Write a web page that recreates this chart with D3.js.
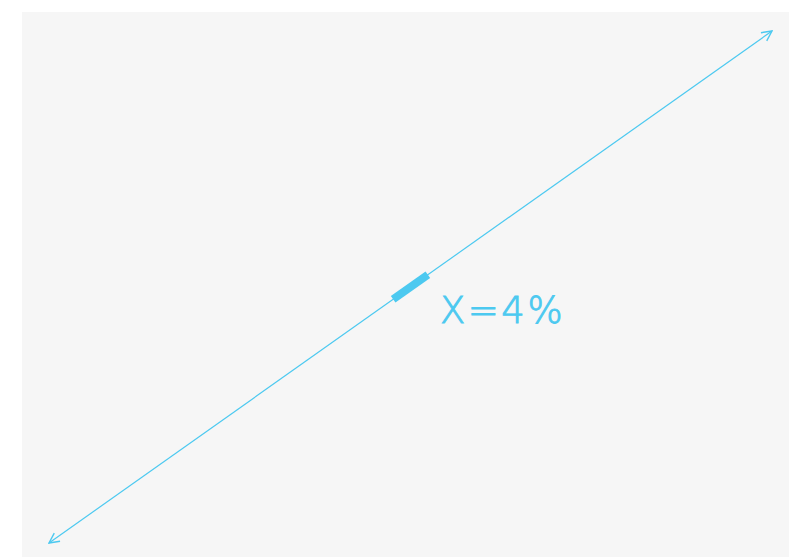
<!DOCTYPE html>
<html><head><meta charset="utf-8">
<script src="https://cdn.jsdelivr.net/npm/d3@7"></script>
<style>html,body{margin:0;padding:0;background:#fff;}svg{display:block;}</style>
</head><body>
<svg id="c" width="789" height="557"></svg>
<script>
// data
const lineStart = [0, 0];
const lineEnd = [1, 1];
const highlight = [0.476, 0.524];
const labelText = ["X=4%"];

const W = 789, H = 557;
const color = "#4cc9f0";
const svg = d3.select("#c");
const defs = svg.append("defs");
["end","start"].forEach(k=>{
  defs.append("marker").attr("id","arrow-"+k)
    .attr("viewBox","0 0 12 12").attr("refX",11).attr("refY",6)
    .attr("markerWidth",12).attr("markerHeight",12).attr("markerUnits","userSpaceOnUse")
    .attr("orient", k==="end" ? "auto" : "auto-start-reverse")
    .append("path").attr("d","M1,1 L11,6 L1,11").attr("fill","none")
    .attr("stroke",color).attr("stroke-width",1.4);
});

svg.append("rect").attr("x",22).attr("y",12).attr("width",W-22).attr("height",H-12).attr("fill","#f6f6f6");

const x = d3.scaleLinear().domain([0,1]).range([49,772]);
const y = d3.scaleLinear().domain([0,1]).range([543,31]);
const line = d3.line().x(d=>x(d[0])).y(d=>y(d[1]));

svg.append("path").datum([lineStart,lineEnd]).attr("d",line)
  .attr("fill","none").attr("stroke",color).attr("stroke-width",1.2)
  .attr("marker-start","url(#arrow-start)").attr("marker-end","url(#arrow-end)");

svg.append("path").datum([[highlight[0],highlight[0]],[highlight[1],highlight[1]]]).attr("d",line)
  .attr("fill","none").attr("stroke",color).attr("stroke-width",8);

svg.append("text").attr("x",440).attr("y",323).text(labelText[0])
  .attr("fill",color).attr("font-family","DejaVu Sans, sans-serif").attr("font-weight",300)
  .attr("font-size",37).attr("letter-spacing",2.5)
  .attr("stroke",color).attr("stroke-width",0.9);
</script>
</body></html>
